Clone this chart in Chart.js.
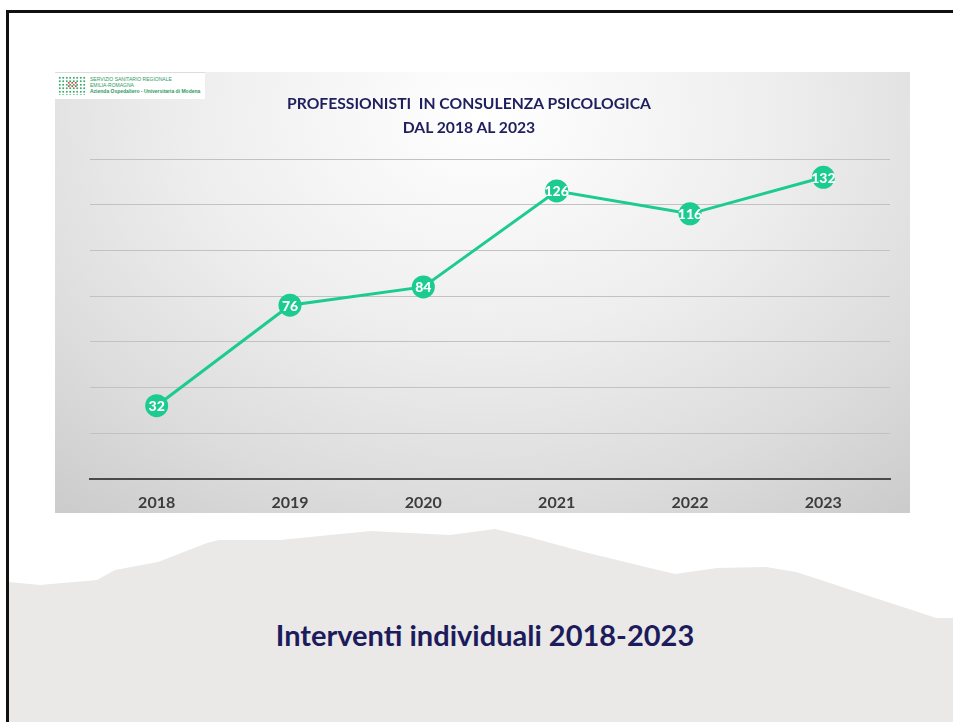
<!DOCTYPE html>
<html>
<head>
<meta charset="utf-8">
<script src="https://cdn.jsdelivr.net/npm/chart.js@4"></script>
<style>
  html, body { margin:0; padding:0; background:#fff; }
  body { width:953px; height:722px; position:relative; overflow:hidden; font-family: Lato, "Open Sans", sans-serif; }
  #slide { position:absolute; left:6px; top:10px; width:960px; height:730px; border-left:3px solid #111; border-top:3px solid #111; box-sizing:border-box; }
  #hill { position:absolute; left:0; top:0; }
  #panel { position:absolute; left:55px; top:72px; width:855px; height:441px; overflow:hidden;
    background: radial-gradient(ellipse 85% 125% at 50% 10%, #ffffff 0%, #eeeeee 40%, #dcdcdc 70%, #c6c6c6 100%); }
  #panel canvas { position:absolute; left:0; top:0; }
  #ptitle { position:absolute; left:0; width:828px; top:19px; text-align:center; font-family: Lato, "Open Sans", sans-serif;
    font-weight:bold; font-size:15.7px; line-height:24px; color:#1f1f5e; white-space:pre; }
  #logo { position:absolute; left:55px; top:72px; width:150px; height:26px; background:#fff; border-top:1px solid #ddd; }
  #logo .dots { position:absolute; left:3px; top:3px; width:28px; height:19px;
    background-image: radial-gradient(circle, #3aa86e 45%, transparent 50%); background-size:3.5px 3.5px; }
  #logo .red { position:absolute; left:12px; top:8px; width:10px; height:8px;
    background-image: radial-gradient(circle, #d9453f 45%, transparent 50%); background-size:3.5px 3.5px; }
  #logo .txt { position:absolute; left:35px; top:3px; font-family:"Liberation Sans", sans-serif; font-size:5px; line-height:6px; color:#2f9a62; white-space:nowrap; }
  #caption { position:absolute; left:0; width:970px; top:617px; text-align:center; font-family: Lato, "Open Sans", sans-serif; font-weight:bold; font-size:29px; color:#1c1c5c; }
</style>
</head>
<body>
<div id="slide"></div>
<svg id="hill" width="953" height="722">
  <polygon fill="#ebe9e7" points="9,582 40,585 97,580 115,570 158,562 207,543 219,540 280,540 330,535 371,531 410,533 450,535 495,529 529,537 584,552 650,568 675,574 717,568 766,567 796,572 827,582 875,598 912,610 936,618 953,618 953,722 9,722"/>
</svg>
<div id="panel">
  <canvas id="chart" width="855" height="456"></canvas>
  <div id="ptitle"></div>
</div>
<div id="logo">
  <div class="dots"></div><div class="red"></div>
  <div class="txt">SERVIZIO SANITARIO REGIONALE<br>EMILIA-ROMAGNA<br><b>Azienda Ospedaliero - Universitaria di Modena</b></div>
</div>
<div id="caption">Interventi individuali 2018-2023</div>

<script>
const years = ['2018', '2019', '2020', '2021', '2022', '2023'];
const professionisti = [32, 76, 84, 126, 116, 132];
const titleLines = ['PROFESSIONISTI  IN CONSULENZA PSICOLOGICA', 'DAL 2018 AL 2023'];

const green = '#1ccb8f';

document.getElementById('ptitle').textContent = titleLines.join('\n');

const valueBadges = {
  id: 'valueBadges',
  afterDatasetsDraw(chart){
    const ctx = chart.ctx;
    const meta = chart.getDatasetMeta(0);
    ctx.save();
    ctx.font = '900 14px Lato, "Open Sans", sans-serif';
    ctx.fillStyle = '#ffffff';
    ctx.textAlign = 'center';
    ctx.textBaseline = 'middle';
    meta.data.forEach((pt, i) => {
      ctx.fillText(String(chart.data.datasets[0].data[i]), pt.x, pt.y + 1);
    });
    ctx.restore();
  }
};

new Chart(document.getElementById('chart'), {
  type: 'line',
  data: {
    labels: years,
    datasets: [{
      data: professionisti,
      borderColor: green,
      backgroundColor: green,
      borderWidth: 3,
      pointRadius: 11.5,
      pointHoverRadius: 11.5,
      pointBackgroundColor: green,
      pointBorderWidth: 0,
      tension: 0
    }]
  },
  options: {
    responsive: false,
    animation: false,
    layout: { padding: { left: 35, right: 20, top: 87, bottom: 2 } },
    plugins: {
      legend: { display: false },
      tooltip: { enabled: false }
    },
    scales: {
      x: {
        offset: true,
        grid: { display: false, drawTicks: false },
        border: { display: true, color: '#4a4a4a', width: 2 },
        ticks: { color: '#3d3d3d', padding: 14, font: { family: 'Lato, "Open Sans", sans-serif', size: 16, weight: 'bold' } }
      },
      y: {
        min: 0, max: 140,
        ticks: { display: false, stepSize: 20 },
        border: { display: false },
        grid: { color: '#c2c2c2', lineWidth: 1, drawTicks: false }
      }
    }
  },
  plugins: [valueBadges]
});
</script>
</body>
</html>
